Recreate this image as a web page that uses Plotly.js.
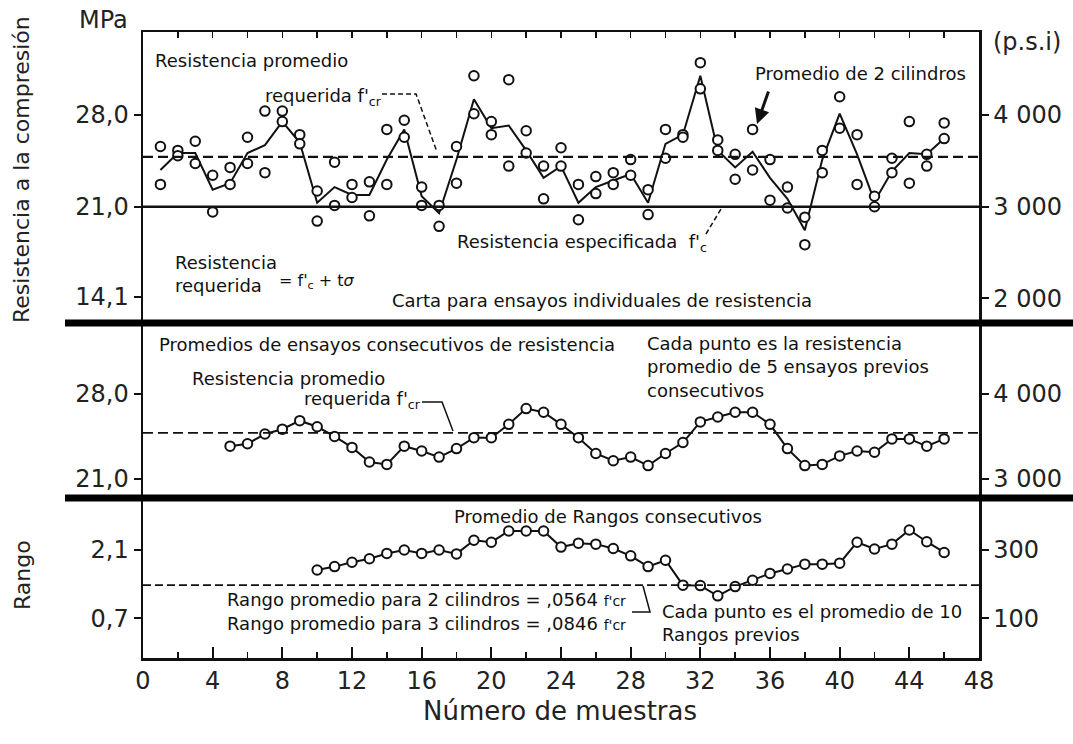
<!DOCTYPE html>
<html>
<head>
<meta charset="utf-8">
<script src="https://cdn.plot.ly/plotly-3.0.1.min.js"></script>
<style>html,body{margin:0;padding:0;background:#fff;}#chart{width:1073px;height:744px;}</style>
</head>
<body>
<div id="chart"></div>
<script>
// ---------------- DATA ----------------
const samples = [1,2,3,4,5,6,7,8,9,10,11,12,13,14,15,16,17,18,19,20,21,22,23,24,25,26,27,28,29,30,31,32,33,34,35,36,37,38,39,40,41,42,43,44,45,46];
// individual cylinder results (MPa), two cylinders per sample
const cylinderA = [25.6,25.3,26.0,23.4,24.0,26.3,28.3,28.3,26.5,22.2,24.4,22.7,22.9,26.9,27.6,22.5,21.1,25.6,31.0,27.5,30.7,26.8,24.1,25.5,22.7,23.3,23.6,24.6,22.3,26.9,26.5,32.0,26.1,25.0,26.9,24.6,22.5,20.2,25.3,29.4,26.5,21.8,24.7,27.5,25.0,27.4];
const cylinderB = [22.7,24.9,24.3,20.6,22.7,24.3,23.6,27.5,25.8,19.9,21.1,21.7,20.3,22.7,26.3,21.1,19.5,22.8,28.1,26.5,24.1,25.1,21.6,24.1,20.0,22.0,22.7,23.4,20.4,24.7,26.3,30.0,25.3,23.1,23.8,21.5,20.9,18.1,23.6,27.0,22.7,21.0,23.6,22.8,24.1,26.2];
// average of 2 cylinders (MPa)
const avgTwo = [23.8,25.1,25.1,22.3,22.8,25.1,25.7,27.5,25.9,21.3,22.5,21.9,21.9,24.6,26.9,21.8,20.5,24.6,29.2,27.0,27.2,25.3,23.2,24.1,21.3,22.5,23.0,23.5,21.3,25.8,26.5,31.0,25.3,24.0,25.2,23.2,21.6,19.2,24.6,28.1,25.0,21.4,23.7,25.1,25.0,26.2];
// moving average of 5 previous tests (MPa)
const samplesAvg5 = [5,6,7,8,9,10,11,12,13,14,15,16,17,18,19,20,21,22,23,24,25,26,27,28,29,30,31,32,33,34,35,36,37,38,39,40,41,42,43,44,45,46];
const movingAvg5 = [23.7,23.9,24.7,25.1,25.8,25.3,24.5,23.6,22.4,22.2,23.7,23.3,22.8,23.5,24.4,24.4,25.5,26.8,26.5,25.5,24.4,23.1,22.5,22.8,22.1,23.1,24.0,25.7,26.1,26.5,26.5,25.5,23.5,22.1,22.2,22.9,23.3,23.2,24.3,24.3,23.7,24.3];
// moving average of 10 previous ranges (MPa)
const samplesRange = [10,11,12,13,14,15,16,17,18,19,20,21,22,23,24,25,26,27,28,29,30,31,32,33,34,35,36,37,38,39,40,41,42,43,44,45,46];
const rangeAvg10 = [1.69,1.76,1.85,1.92,2.03,2.10,2.03,2.10,2.02,2.30,2.26,2.49,2.49,2.49,2.16,2.24,2.22,2.13,1.98,1.76,1.89,1.38,1.37,1.16,1.35,1.48,1.62,1.71,1.81,1.81,1.83,2.26,2.12,2.22,2.51,2.27,2.05];
// reference levels (MPa)
const fcrRequired = 24.8;
const fcSpecified = 21.0;
const rangeMean = 1.38;
// tick labels
const xTicks = [0,4,8,12,16,20,24,28,32,36,40,44,48];
const topTicks = [14.1,21.0,28.0];
const topTickText = ['14,1','21,0','28,0'];
const midTicks = [21.0,28.0];
const midTickText = ['21,0','28,0'];
const botTicks = [0.7,2.1];
const botTickText = ['0,7','2,1'];
const psiTop = [2000,3000,4000];
const psiTopText = ['2 000','3 000','4 000'];
const psiMid = [3000,4000];
const psiMidText = ['3 000','4 000'];
const psiBot = [100,300];
const psiBotText = ['100','300'];
const mpaToChartPsi = 1000/7;

// ---------------- LAYOUT HELPERS (pixels -> paper) ----------------
const W=1073, H=744, L=143, R=979, T=32, B=658;
const xp = px => (px-L)/(R-L);
const yp = py => (B-py)/(B-T);
const FONT = 'DejaVu Sans, Verdana, sans-serif';
const INK = '#111';

const d1=[yp(323),1], d2=[yp(498),yp(323)], d3=[0,yp(498)];
const r1=[12.12,34.34], r2=[19.43,33.85], r3=[-0.1135,3.166];

const markerStyle = {symbol:'circle', size:9.5, color:'#fff', line:{color:INK,width:2}};

const traces = [
  {x:samples, y:avgTwo, mode:'lines', line:{color:INK,width:2}, xaxis:'x', yaxis:'y', hoverinfo:'skip'},
  {x:samples, y:cylinderA, mode:'markers', marker:markerStyle, xaxis:'x', yaxis:'y', cliponaxis:false},
  {x:samples, y:cylinderB, mode:'markers', marker:markerStyle, xaxis:'x', yaxis:'y', cliponaxis:false},
  {x:samplesAvg5, y:movingAvg5, mode:'lines+markers', line:{color:INK,width:2}, marker:markerStyle, xaxis:'x', yaxis:'y2'},
  {x:samplesRange, y:rangeAvg10, mode:'lines+markers', line:{color:INK,width:2}, marker:markerStyle, xaxis:'x', yaxis:'y3'},
  // empty traces so that the top frame and right-hand psi axes are drawn
  {x:[], y:[], mode:'markers', xaxis:'x2', yaxis:'y4', hoverinfo:'skip'},
  {x:[], y:[], mode:'markers', xaxis:'x', yaxis:'y5', hoverinfo:'skip'},
  {x:[], y:[], mode:'markers', xaxis:'x', yaxis:'y6', hoverinfo:'skip'}
];

const tickFont = {family:FONT, size:24, color:'#222'};
function leftAxis(domain, range, vals, text){
  return {domain, range, tickvals:vals, ticktext:text, tickfont:tickFont, ticks:'outside', ticklen:7, tickwidth:2, tickcolor:INK,
    showline:true, linecolor:INK, linewidth:2.5, showgrid:false, zeroline:false, anchor:'x', fixedrange:true};
}
function rightAxis(over, range, vals, text){
  return {overlaying:over, side:'right', anchor:'x', range:[range[0]*mpaToChartPsi, range[1]*mpaToChartPsi], tickvals:vals, ticktext:text,
    tickfont:tickFont, ticks:'outside', ticklen:7, tickwidth:2, tickcolor:INK, showline:true, linecolor:INK, linewidth:2.5, showgrid:false, zeroline:false};
}

const hline = (yref, v, dash, w) => ({type:'line', xref:'x', yref, x0:0, x1:48, y0:v, y1:v, line:{color:INK, width:w, dash}});
const seg = (pts, dash, w) => ({type:'path', xref:'paper', yref:'paper',
  path: pts.map((p,i)=>(i?'L':'M')+xp(p[0]).toFixed(4)+','+yp(p[1]).toFixed(4)).join(' '),
  line:{color:INK, width:w||1.5, dash:dash||'solid'}});

const shapes = [
  hline('y', fcrRequired, '10px,5px', 2.2),
  hline('y', fcSpecified, 'solid', 2.5),
  hline('y2', fcrRequired, '10px,5px', 1.8),
  hline('y3', rangeMean, '8px,4px', 1.8),
  // thick separators between the charts
  {type:'line', xref:'paper', yref:'paper', x0:xp(65), x1:xp(1073), y0:yp(323), y1:yp(323), line:{color:'#000', width:7}},
  {type:'line', xref:'paper', yref:'paper', x0:xp(65), x1:xp(1073), y0:yp(498), y1:yp(498), line:{color:'#000', width:7}},
  // leader lines
  seg([[382,94],[416,94],[437,152]], '5px,3px', 1.5),
  seg([[706,234],[721,209]], '5px,3px', 1.5),
  seg([[422,402],[442,402],[453,431]], 'solid', 1.5),
  seg([[632,612],[650,612],[643,586]], 'solid', 1.5)
];

const A = (text, px, py, opts) => Object.assign({text, xref:'paper', yref:'paper', x:xp(px), y:yp(py), xanchor:'left', yanchor:'middle',
  showarrow:false, align:'left', font:{family:FONT, size:18, color:INK}}, opts||{});

const annotations = [
  A('Resistencia promedio', 153, 60),
  A("requerida f'<sub>cr</sub>", 263, 97),
  A('Promedio de 2 cilindros', 753, 73),
  A("Resistencia especificada  f'<sub>c</sub>", 455, 243),
  A('Resistencia<br>requerida', 173, 274),
  A("= f'<sub>c</sub> + t<i>σ</i>", 277, 281, {font:{family:FONT, size:16, color:INK}}),
  A('Carta para ensayos individuales de resistencia', 390, 300),
  A('Promedios de ensayos consecutivos de resistencia', 157, 344),
  A('Resistencia promedio', 190, 378),
  A("requerida f'<sub>cr</sub>", 302, 400),
  A('Cada punto es la resistencia<br>promedio de 5 ensayos previos<br>consecutivos', 645, 367),
  A('Promedio de Rangos consecutivos', 452, 516),
  A("Rango promedio para 2 cilindros = ,0564 <span style='font-size:14px'>f'cr</span>", 225, 599),
  A("Rango promedio para 3 cilindros = ,0846 <span style='font-size:14px'>f'cr</span>", 225, 623),
  A('Cada punto es el promedio de 10<br>Rangos previos', 660, 623),
  // arrow to "Promedio de 2 cilindros"
  {text:'', xref:'paper', yref:'paper', x:xp(757), y:yp(124), ax:12, ay:-34, showarrow:true, arrowhead:2, arrowsize:1, arrowwidth:3, arrowcolor:INK, standoff:0},
  // axis texts
  A('MPa', 103, 20, {xanchor:'center', font:{family:FONT, size:24, color:'#222'}}),
  A('(p.s.i)', 1027, 42, {xanchor:'center', font:{family:FONT, size:24, color:'#222'}}),
  A('Resistencia a la compresión', 22, 170, {xanchor:'center', textangle:-90, font:{family:FONT, size:22, color:'#222'}}),
  A('Rango', 22, 575, {xanchor:'center', textangle:-90, font:{family:FONT, size:22, color:'#222'}}),
  A('Número de muestras', 560, 711, {xanchor:'center', font:{family:FONT, size:26, color:'#222'}})
];

const layout = {
  width:W, height:H, margin:{l:L, r:W-R, t:T, b:H-B}, paper_bgcolor:'#fff', plot_bgcolor:'rgba(0,0,0,0)', showlegend:false,
  xaxis:{range:[0,48], tickvals:xTicks, ticktext:xTicks.map(String), tickfont:tickFont, ticks:'inside', ticklen:11, tickwidth:2, tickcolor:INK,
    minor:{dtick:2, tick0:0, ticks:'inside', ticklen:6, tickwidth:1.5, tickcolor:INK},
    showline:true, linecolor:INK, linewidth:2.5, showgrid:false, zeroline:false, anchor:'y3', fixedrange:true},
  xaxis2:{range:[0,48], overlaying:'x', side:'top', anchor:'y', dtick:2, tick0:0, ticks:'inside', ticklen:6, tickwidth:1.5, tickcolor:INK,
    showticklabels:false, showline:true, linecolor:INK, linewidth:2.5, showgrid:false, zeroline:false},
  yaxis: leftAxis(d1, r1, topTicks, topTickText),
  yaxis2: leftAxis(d2, r2, midTicks, midTickText),
  yaxis3: leftAxis(d3, r3, botTicks, botTickText),
  yaxis4: rightAxis('y', r1, psiTop, psiTopText),
  yaxis5: rightAxis('y2', r2, psiMid, psiMidText),
  yaxis6: rightAxis('y3', r3, psiBot, psiBotText),
  shapes, annotations
};

Plotly.newPlot('chart', traces, layout, {staticPlot:true, displayModeBar:false});
</script>
</body>
</html>
